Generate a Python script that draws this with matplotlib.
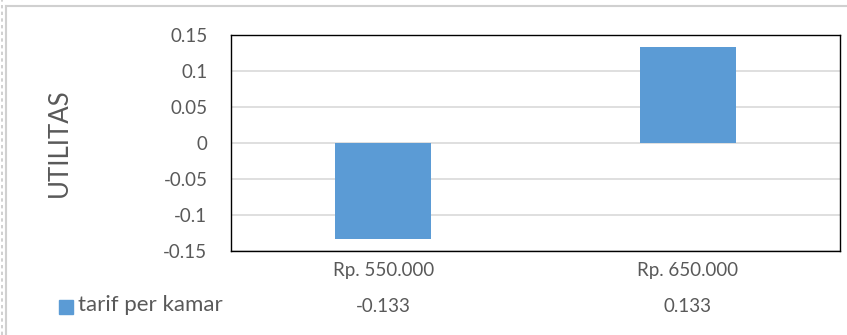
import matplotlib
matplotlib.use("Agg")
import matplotlib.pyplot as plt
from matplotlib.patches import Rectangle
from matplotlib.lines import Line2D

# Data
categories = ["Rp. 550.000", "Rp. 650.000"]
utilitas = [-0.133, 0.133]
series_name = "tarif per kamar"
y_ticks = [-0.15, -0.1, -0.05, 0, 0.05, 0.1, 0.15]
y_tick_labels = ["-0.15", "-0.1", "-0.05", "0", "0.05", "0.1", "0.15"]

W, H = 847, 335
DPI = 100
FONT = "Lato"
TEXT_GRAY = "#595959"
BAR_BLUE = "#5B9BD5"
FS_NUM = 13.5
FS_LEGEND = 16

fig = plt.figure(figsize=(W / DPI, H / DPI), dpi=DPI)
fig.patch.set_facecolor("white")

def px(x, y):
    return x / W, 1 - y / H

# chart area border and page decoration
fig.add_artist(Line2D([6 / W, 6 / W], [0, 1 - 6 / H], color="#d0d0d0", lw=1.5,
                      transform=fig.transFigure))
fig.add_artist(Line2D([6 / W, 1], [1 - 6 / H, 1 - 6 / H], color="#d0d0d0", lw=1.5,
                      transform=fig.transFigure))
fig.add_artist(Line2D([2 / W, 2 / W], [0, 1], color="#c8c8c8", lw=1.2, ls=(0, (2, 2)),
                      transform=fig.transFigure))

# plot area
left, top, right, bottom = 231, 35, 840, 251
ax = fig.add_axes([left / W, 1 - bottom / H, (right - left) / W, (bottom - top) / H])
x = list(range(len(categories)))
ax.bar(x, utilitas, width=0.315, color=BAR_BLUE, zorder=3)
ax.set_xlim(-0.5, len(categories) - 0.5)
ax.set_ylim(-0.15, 0.15)
ax.set_yticks(y_ticks)
ax.set_yticklabels(y_tick_labels, fontfamily=FONT, fontsize=FS_NUM, color=TEXT_GRAY)
ax.set_xticks([])
ax.tick_params(axis="y", length=0, pad=17)
ax.grid(axis="y", color="#d9d9d9", lw=1.2, zorder=0)
for s in ax.spines.values():
    s.set_color("#000000")
    s.set_linewidth(1.0)

# axis title
lx, ly = px(59, 143)
fig.text(lx, ly, "UTILITAS", rotation=90, ha="center", va="center",
         fontfamily=FONT, fontsize=18.5, color=TEXT_GRAY)

# data table below the axis
for i, (cat, val) in enumerate(zip(categories, utilitas)):
    ax.text(i, -0.177, cat, transform=ax.transData, ha="center", va="center",
            fontfamily=FONT, fontsize=FS_NUM, color=TEXT_GRAY, clip_on=False)
    ax.text(i, -0.2265, f"{val:.3f}", transform=ax.transData, ha="center", va="center",
            fontfamily=FONT, fontsize=FS_NUM, color=TEXT_GRAY, clip_on=False)

# legend key in the table row
kx, ky = px(59, 314)
fig.add_artist(Rectangle((kx, ky), 14 / W, 14 / H, color=BAR_BLUE, transform=fig.transFigure))
tx, ty = px(78, 305)
fig.text(tx, ty, series_name, ha="left", va="center", fontfamily=FONT, fontsize=FS_LEGEND,
         color=TEXT_GRAY)

fig.savefig("out.png", dpi=DPI)
